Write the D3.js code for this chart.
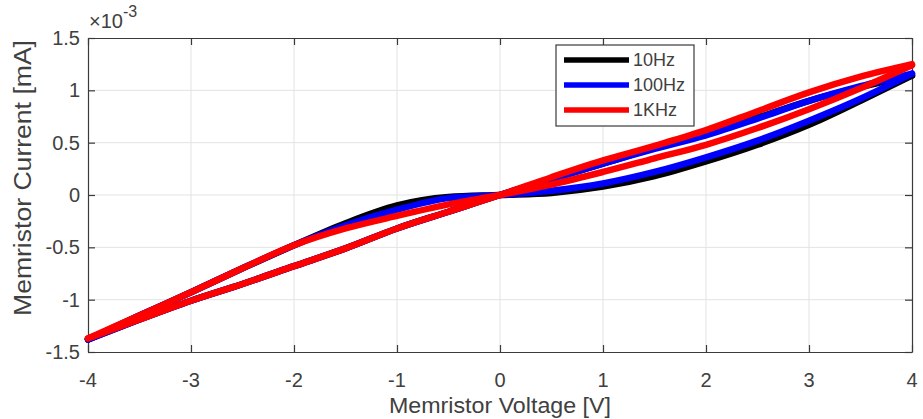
<!DOCTYPE html>
<html>
<head>
<meta charset="utf-8">
<script src="https://cdn.jsdelivr.net/npm/d3@7"></script>
<style>
  body { margin: 0; background: #fff; }
  text { font-family: "Liberation Sans", Arial, sans-serif; fill: #404040; }
</style>
</head>
<body>
<svg id="chart" width="923" height="419"></svg>
<script>
// tension (V), commune à toutes les courbes
const voltage = [-4, -3.5, -3, -2.5, -2, -1.5, -1, -0.5, 0, 0.5, 1, 1.5, 2, 2.5, 3, 3.5, 4];

// courant (x1e-3) : branche "S" (pincée) et branche quasi linéaire
const i10Hz_s   = [-1.38, -1.15, -0.93, -0.70, -0.48, -0.27, -0.10, -0.02, 0, 0.02, 0.08, 0.18, 0.32, 0.48, 0.67, 0.90, 1.14];
const i10Hz_lin = [-1.38, -1.19, -1.01, -0.85, -0.68, -0.51, -0.32, -0.16, 0, 0.15, 0.30, 0.45, 0.59, 0.74, 0.90, 1.03, 1.14];

const i100Hz_s   = [-1.38, -1.15, -0.93, -0.70, -0.48, -0.29, -0.14, -0.03, 0, 0.04, 0.11, 0.22, 0.36, 0.52, 0.71, 0.92, 1.16];
const i100Hz_lin = [-1.38, -1.19, -1.01, -0.85, -0.68, -0.51, -0.32, -0.16, 0, 0.15, 0.30, 0.44, 0.57, 0.73, 0.90, 1.04, 1.16];

const i1KHz_s   = [-1.37, -1.15, -0.93, -0.70, -0.48, -0.32, -0.20, -0.09, 0, 0.10, 0.22, 0.35, 0.48, 0.64, 0.82, 1.02, 1.24];
const i1KHz_lin = [-1.37, -1.19, -1.01, -0.85, -0.68, -0.51, -0.32, -0.16, 0, 0.17, 0.33, 0.47, 0.62, 0.80, 0.98, 1.13, 1.25];

const legendNames = ["10Hz", "100Hz", "1KHz"];
const couleurs = ["#000000", "#0000ff", "#ff0000"];

const xTicks = [-4, -3, -2, -1, 0, 1, 2, 3, 4];
const yTicks = [-1.5, -1, -0.5, 0, 0.5, 1, 1.5];
const yTickLabels = ["-1.5", "-1", "-0.5", "0", "0.5", "1", "1.5"];

const series = [
  { name: legendNames[0], color: couleurs[0], branches: [i10Hz_s, i10Hz_lin] },
  { name: legendNames[1], color: couleurs[1], branches: [i100Hz_s, i100Hz_lin] },
  { name: legendNames[2], color: couleurs[2], branches: [i1KHz_s, i1KHz_lin] }
];

const cadre = { gauche: 88, droite: 912, haut: 38, bas: 352 };
const svg = d3.select("#chart");

const x = d3.scaleLinear().domain([-4, 4]).range([cadre.gauche, cadre.droite]);
const y = d3.scaleLinear().domain([-1.5, 1.5]).range([cadre.bas, cadre.haut]);

// grille
svg.append("g")
  .selectAll("line")
  .data(xTicks.slice(1, -1))
  .join("line")
  .attr("x1", d => x(d)).attr("x2", d => x(d))
  .attr("y1", cadre.haut).attr("y2", cadre.bas)
  .attr("stroke", "#e3e3e3").attr("stroke-width", 1);

svg.append("g")
  .selectAll("line")
  .data(yTicks.slice(1, -1))
  .join("line")
  .attr("x1", cadre.gauche).attr("x2", cadre.droite)
  .attr("y1", d => y(d)).attr("y2", d => y(d))
  .attr("stroke", "#e3e3e3").attr("stroke-width", 1);

// axes (ticks vers l'intérieur, sur les 4 côtés)
const tickLen = 7;
function styleAxis(g) {
  g.selectAll(".domain").attr("stroke", "#3a3a3a").attr("stroke-width", 1.2);
  g.selectAll(".tick line").attr("stroke", "#3a3a3a").attr("stroke-width", 1.2);
}
svg.append("g").attr("transform", `translate(0,${cadre.bas})`)
  .call(d3.axisBottom(x).tickValues(xTicks).tickSize(-tickLen).tickSizeOuter(0).tickFormat(""))
  .call(styleAxis);
svg.append("g").attr("transform", `translate(0,${cadre.haut})`)
  .call(d3.axisTop(x).tickValues(xTicks).tickSize(-tickLen).tickSizeOuter(0).tickFormat(""))
  .call(styleAxis);
svg.append("g").attr("transform", `translate(${cadre.gauche},0)`)
  .call(d3.axisLeft(y).tickValues(yTicks).tickSize(-tickLen).tickSizeOuter(0).tickFormat(""))
  .call(styleAxis);
svg.append("g").attr("transform", `translate(${cadre.droite},0)`)
  .call(d3.axisRight(y).tickValues(yTicks).tickSize(-tickLen).tickSizeOuter(0).tickFormat(""))
  .call(styleAxis);

// étiquettes des ticks
svg.append("g")
  .selectAll("text")
  .data(xTicks)
  .join("text")
  .attr("x", d => x(d)).attr("y", cadre.bas + 35)
  .attr("text-anchor", "middle")
  .style("font-size", "20px")
  .text(d => d);

svg.append("g")
  .selectAll("text")
  .data(yTicks)
  .join("text")
  .attr("x", cadre.gauche - 8).attr("y", d => y(d) + 7)
  .attr("text-anchor", "end")
  .style("font-size", "20px")
  .text((d, i) => yTickLabels[i]);

// facteur d'échelle
const expo = svg.append("text").attr("x", cadre.gauche + 1).attr("y", 28).style("font-size", "20px");
expo.append("tspan").text("\u00d710");
expo.append("tspan").attr("dy", -11).style("font-size", "16px").text("-3");

// titres des axes
svg.append("text")
  .attr("x", x(0)).attr("y", 413)
  .attr("text-anchor", "middle")
  .attr("textLength", 222).attr("lengthAdjust", "spacingAndGlyphs")
  .style("font-size", "22px")
  .text("Memristor Voltage [V]");

svg.append("text")
  .attr("transform", `translate(31,${(cadre.haut + cadre.bas) / 2 - 17}) rotate(-90)`)
  .attr("text-anchor", "middle")
  .attr("textLength", 276).attr("lengthAdjust", "spacingAndGlyphs")
  .style("font-size", "23px")
  .text("Memristor Current [mA]");

// courbes
const ligne = d3.line()
  .x((d, i) => x(voltage[i]))
  .y(d => y(d))
  .curve(d3.curveMonotoneX);

series.forEach(s => {
  svg.append("g")
    .attr("class", "serie")
    .selectAll("path")
    .data(s.branches)
    .join("path")
    .attr("d", d => ligne(d))
    .attr("fill", "none")
    .attr("stroke", s.color)
    .attr("stroke-width", 6.5)
    .attr("stroke-linecap", "round")
    .attr("stroke-linejoin", "round");
});

// légende
const leg = svg.append("g").attr("transform", "translate(556,45)");
leg.append("rect")
  .attr("width", 138).attr("height", 81)
  .attr("fill", "#fff").attr("stroke", "#3a3a3a").attr("stroke-width", 1.2);
const items = leg.selectAll(".item")
  .data(series)
  .join("g")
  .attr("class", "item")
  .attr("transform", (d, i) => `translate(0,${15 + i * 25})`);
items.append("line")
  .attr("x1", 8).attr("x2", 73)
  .attr("stroke", d => d.color).attr("stroke-width", 5.5);
items.append("text")
  .attr("x", 77).attr("y", 6)
  .style("font-size", "18px")
  .text(d => d.name);
</script>
</body>
</html>
